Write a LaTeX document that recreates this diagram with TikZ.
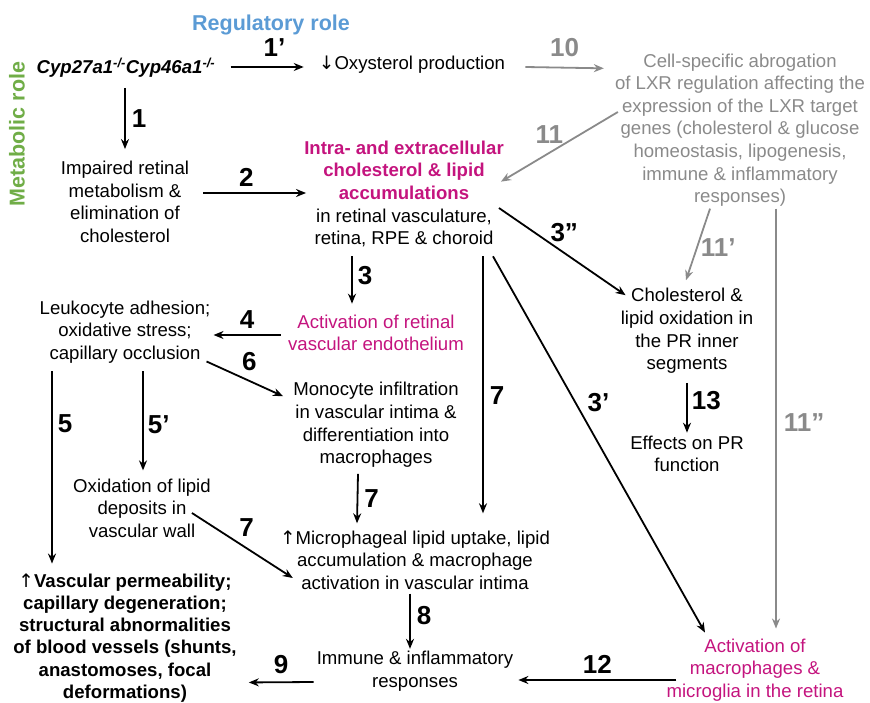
\documentclass[tikz,border=0pt]{standalone}
\usepackage{fontspec}
\setmainfont{Liberation Sans}
\newfontfamily\arrowfont{DejaVu Sans}
\usetikzlibrary{arrows.meta,calc}
\definecolor{rolegreen}{RGB}{112,173,71}
\definecolor{roleblue}{RGB}{91,155,213}
\definecolor{retmagenta}{RGB}{196,20,126}
\definecolor{lxrgrey}{RGB}{138,138,138}
\newcommand{\upar}{{\arrowfont\fontseries{m}\selectfont ↑}}
\newcommand{\downar}{{\arrowfont ↓}}
\tikzset{
  box/.style={
    inner sep = 0pt,
    align = center,
    font = \fontsize{18.6}{22.6}\selectfont
  },
  redbox/.style={
    box,
    text = retmagenta
  },
  greybox/.style={
    box,
    text = lxrgrey
  },
  role/.style={
    inner sep = 0pt,
    font = \fontsize{21.5}{24}\selectfont\bfseries
  },
  num/.style={
    inner sep = 0pt,
    font = \fontsize{26}{28}\selectfont\bfseries
  },
  arr/.style={
    line width = 1.8pt,
    -{Stealth[length=10pt,width=8pt]}
  },
  greyarr/.style={
    arr,
    draw = lxrgrey
  }
}

\begin{document}
\begin{tikzpicture}[x=1pt,y=-1pt]
            \useasboundingbox (0,0) rectangle (870,703);
            \node[role,text=roleblue] (reg) at (271,25) {Regulatory role};
            \node[role,text=rolegreen,rotate=90] (met) at (17,134) {Metabolic role};
            \node[box,font=\fontsize{18.6}{22.6}\selectfont\bfseries\itshape] (cyp) at (126,68)
                {Cyp27a1\textsuperscript{-/-}Cyp46a1\textsuperscript{-/-}};
            \node[box] (oxy) at (412,65) {\downar Oxysterol production};
            \node[greybox] (lxr) at (740,130) {Cell-specific abrogation\\of LXR regulation affecting the\\expression of the LXR target\\genes (cholesterol \& glucose\\homeostasis, lipogenesis,\\immune \& inflammatory\\responses)};
            \node[box] (impaired) at (125,202) {Impaired retinal\\metabolism \&\\elimination of\\cholesterol};
            \node[box] (intra) at (404,194) {\textcolor{retmagenta}{\textbf{Intra- and extracellular}}\\\textcolor{retmagenta}{\textbf{cholesterol \& lipid}}\\\textcolor{retmagenta}{\textbf{accumulations}}\\in retinal vasculature,\\retina, RPE \& choroid};
            \node[redbox] (actv) at (376,333) {Activation of retinal\\vascular endothelium};
            \node[box] (leuko) at (125,332) {Leukocyte adhesion;\\oxidative stress;\\capillary occlusion};
            \node[box] (mono) at (376,425) {Monocyte infiltration\\in vascular intima \&\\differentiation into\\macrophages};
            \node[box] (chol) at (687,331) {Cholesterol \&\\lipid oxidation in\\the PR inner\\segments};
            \node[box] (effects) at (687,454) {Effects on PR\\function};
            \node[box] (oxid) at (142,508) {Oxidation of lipid\\deposits in\\vascular wall};
            \node[box] (micro) at (415,560) {\upar Microphageal lipid uptake, lipid\\accumulation \& macrophage\\activation in vascular intima};
            \node[box,font=\fontsize{18.6}{22.2}\selectfont\bfseries] (vasc) at (125,638) {\upar Vascular permeability;\\capillary degeneration;\\structural abnormalities\\of blood vessels (shunts,\\anastomoses, focal\\deformations)};
            \node[box] (immune) at (415,671) {Immune \& inflammatory\\responses};
            \node[redbox] (macro) at (755,670) {Activation of\\macrophages \&\\microglia in the retina};

            \draw[arr] ($(cyp.east)+(15,-1)$) -- ($(oxy.west)+(-15,2)$)
                node[num,pos=0.6,above=10pt] (l1p) {1’};
            \draw[greyarr] ($(oxy.east)+(20,2)$) -- ($(lxr.north west)+(-11,15)$)
                node[num,text=lxrgrey,midway,above=10pt] (l10) {10};
            \draw[greyarr] ($(lxr.west)+(3,-18)$) -- ($(intra.north east)+(-3,41)$)
                node[num,text=lxrgrey,pos=0.46,anchor=south east] (l11) {11};
            \draw[arr] ($(cyp.south)+(-1,10)$) -- ($(impaired.north)+(0,-12)$)
                node[num,midway,right=6pt] (l1) {1};
            \draw[arr] ($(impaired.east)+(14,-9)$) -- ($(intra.west)+(2,-1)$)
                node[num,pos=0.42,above=6pt] (l2) {2};
            \draw[arr] ($(intra.south)+(-52,9)$) -- ($(actv.north)+(-24,-11)$)
                node[num,pos=0.4,right=5pt] (l3) {3};
            \draw[arr] ($(intra.east)+(-5,14)$) -- ($(chol.north west)+(5,7)$)
                node[num,pos=0.4,anchor=south west] (l3pp) {3”};
            \draw[arr] ($(intra.south)+(79,9)$) -- ($(micro.north)+(68,-17)$)
                node[num,pos=0.54,right=6pt] (l7c) {7};
            \draw[arr] ($(intra.south)+(89,9)$) -- ($(macro.north)+(-50,-6)$)
                node[num,pos=0.39,right=11pt] (l3p) {3’};
            \draw[greyarr] ($(lxr.south)+(-30,2)$) -- ($(chol.north)+(-1,-8)$)
                node[num,text=lxrgrey,pos=0.54,right=3pt] (l11p) {11’};
            \draw[greyarr] ($(lxr.south)+(36,2)$) -- ($(macro.north)+(21,-10)$)
                node[num,text=lxrgrey,pos=0.51,right=7pt] (l11pp) {11”};
            \draw[arr] ($(actv.west)+(-7,2)$) -- ($(leuko.east)+(3,3)$)
                node[num,midway,above=6pt] (l4) {4};
            \draw[arr] ($(leuko.south east)+(-4,-2)$) -- ($(mono.north west)+(-10,14)$)
                node[num,pos=0.4,above right=4pt] (l6) {6};
            \draw[arr] ($(mono.south)+(-18,6)$) -- ($(micro.north)+(-58,-7)$)
                node[num,midway,right=6pt] (l7a) {7};
            \draw[arr] ($(leuko.south)+(-73,8)$) -- ($(vasc.north)+(-73,-10)$)
                node[num,pos=0.27,right=5pt] (l5) {5};
            \draw[arr] ($(leuko.south)+(18,8)$) -- ($(oxid.north)+(1,-8)$)
                node[num,pos=0.54,right=4pt] (l5p) {5’};
            \draw[arr] ($(oxid.east)+(-19,5)$) -- ($(micro.west)+(13,18)$)
                node[num,pos=0.46,anchor=south west,yshift=6pt] (l7b) {7};
            \draw[arr] ($(micro.south)+(-5,4)$) -- ($(immune.north)+(-5,-2)$)
                node[num,pos=0.4,right=6pt] (l8) {8};
            \draw[arr] ($(immune.west)+(-3,11)$) -- ($(vasc.south east)+(12,-20)$)
                node[num,midway,above=8pt] (l9) {9};
            \draw[arr] ($(macro.west)+(10,10)$) -- ($(immune.east)+(5,9)$)
                node[num,midway,above=6pt] (l12) {12};
            \draw[arr] ($(chol.south)+(0,9)$) -- ($(effects.north)+(0,-3)$)
                node[num,pos=0.36,right=4pt] (l13) {13};
\end{tikzpicture}
\end{document}
